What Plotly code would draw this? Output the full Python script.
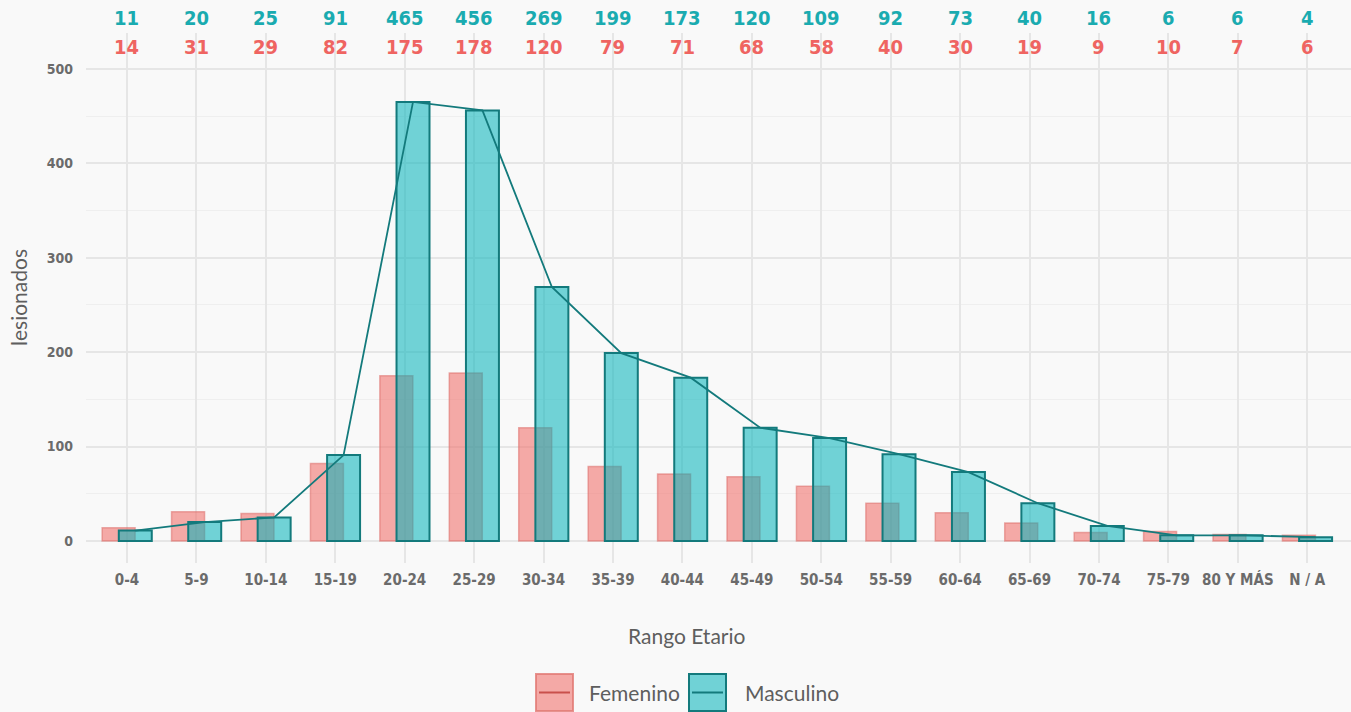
import plotly.graph_objects as go

categories = ["0-4", "5-9", "10-14", "15-19", "20-24", "25-29", "30-34", "35-39", "40-44",
              "45-49", "50-54", "55-59", "60-64", "65-69", "70-74", "75-79", "80 Y MÁS", "N / A"]
masculino = [11, 20, 25, 91, 465, 456, 269, 199, 173, 120, 109, 92, 73, 40, 16, 6, 6, 4]
femenino = [14, 31, 29, 82, 175, 178, 120, 79, 71, 68, 58, 40, 30, 19, 9, 10, 7, 6]
series_names = ["Femenino", "Masculino"]
y_ticks = [0, 100, 200, 300, 400, 500]

idx = list(range(len(categories)))
BW = 0.475
OFF = 0.12
COND = "DejaVu Sans Condensed, Liberation Sans Narrow, sans-serif"
TXT = "Lato, sans-serif"
FEM_FILL = "rgba(240,115,110,0.6)"
FEM_LINE = "rgba(220,110,105,0.55)"
MAS_FILL = "rgba(0,178,185,0.55)"
MAS_LINE = "#137a7c"

W, H = 1351, 712
L, R, T, B = 86, 0, 33, 149
PW, PH = W - L - R, H - T - B


def px(x):
    return (x - L) / PW


def py(y):
    return (H - B - y) / PH


fig = go.Figure()
fig.add_trace(go.Bar(
    x=[i - OFF for i in idx], y=femenino, width=BW, name=series_names[0], showlegend=False,
    marker=dict(color=FEM_FILL, line=dict(color=FEM_LINE, width=1.5)),
))
fig.add_trace(go.Bar(
    x=[i + OFF for i in idx], y=masculino, width=BW, name=series_names[1], showlegend=False,
    marker=dict(color=MAS_FILL, line=dict(color=MAS_LINE, width=2)),
))
fig.add_trace(go.Scatter(
    x=[i + OFF for i in idx], y=masculino, mode="lines", showlegend=False,
    line=dict(color=MAS_LINE, width=1.8),
))

for i in idx:
    fig.add_annotation(x=i, y=py(18), xref="x", yref="paper", text=f"<b>{masculino[i]}</b>",
                       showarrow=False, font=dict(family=COND, size=20, color="#1aabb0"),
                       yanchor="middle")
    fig.add_annotation(x=i, y=py(47), xref="x", yref="paper", text=f"<b>{femenino[i]}</b>",
                       showarrow=False, font=dict(family=COND, size=20, color="#ef6461"),
                       yanchor="middle")

# axis titles
fig.add_annotation(x=px(687), y=py(635), xref="paper", yref="paper", text="Rango Etario",
                   showarrow=False, xanchor="center", yanchor="middle",
                   font=dict(family=TXT, size=21, color="#5e5e5e"))
fig.add_annotation(x=px(18), y=py(298), xref="paper", yref="paper", text="lesionados",
                   showarrow=False, xanchor="center", yanchor="middle", textangle=-90,
                   font=dict(family=TXT, size=21, color="#5e5e5e"))

# manual legend (larger keys, with line through them as in the reference)
legend_items = [
    (536, 573, FEM_FILL, "rgba(225,120,115,0.8)", "#c9504c", 587, series_names[0]),
    (689, 726, MAS_FILL, MAS_LINE, MAS_LINE, 743, series_names[1]),
]
for x0, x1, fill, border, mid, tx, label in legend_items:
    fig.add_shape(type="rect", xref="paper", yref="paper",
                  x0=px(x0), x1=px(x1), y0=py(711), y1=py(674),
                  fillcolor=fill, line=dict(color=border, width=2))
    fig.add_shape(type="line", xref="paper", yref="paper",
                  x0=px(x0 + 3), x1=px(x1 - 3), y0=py(692.5), y1=py(692.5),
                  line=dict(color=mid, width=2))
    fig.add_annotation(x=px(tx), y=py(692), xref="paper", yref="paper", text=label,
                       showarrow=False, xanchor="left", yanchor="middle",
                       font=dict(family=TXT, size=21, color="#5e5e5e"))

fig.update_layout(
    width=W, height=H,
    barmode="overlay",
    paper_bgcolor="#f9f9f9", plot_bgcolor="rgba(0,0,0,0)",
    margin=dict(l=L, r=R, t=T, b=B),
    showlegend=False,
    xaxis=dict(
        range=[-0.59, 17.63], tickvals=idx, ticktext=[f"<b>{c}</b>" for c in categories],
        tickfont=dict(family=COND, size=15, color="#6b6b6b"),
        showgrid=True, gridcolor="#e6e6e6", gridwidth=2, zeroline=False,
        ticks="", ticklen=0, ticklabelstandoff=6,
    ),
    yaxis=dict(
        range=[-23.3, 538], tickvals=y_ticks,
        ticktext=[f"<b>{v}</b>" for v in y_ticks],
        tickfont=dict(family=COND, size=14, color="#6b6b6b"),
        showgrid=True, gridcolor="#e6e6e6", gridwidth=2, zeroline=False,
        minor=dict(tickvals=[50, 150, 250, 350, 450], showgrid=True, gridcolor="#efefef", gridwidth=1),
        ticklabelstandoff=12,
    ),
)

fig.write_html("out.html", config={"displayModeBar": False},
               post_script="document.body.style.margin='0';document.body.style.overflow='hidden';")
